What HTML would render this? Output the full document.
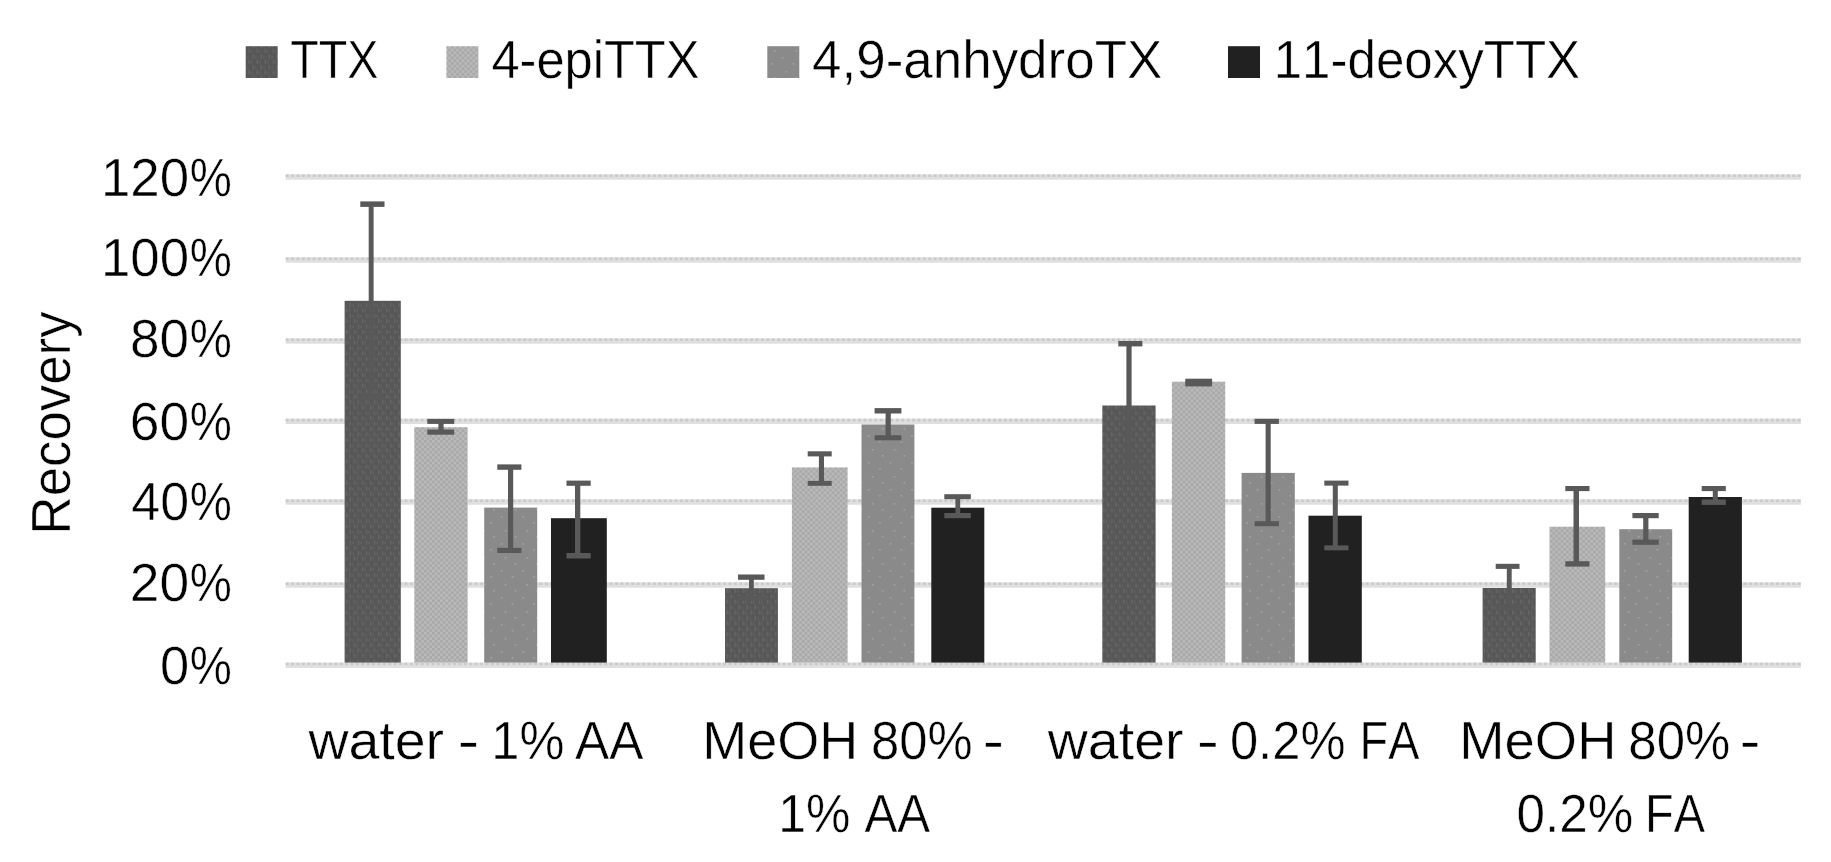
<!DOCTYPE html>
<html lang="en"><head><meta charset="utf-8"><title>Recovery chart</title>
<style>html,body{margin:0;padding:0;background:#fff}body{width:1831px;height:862px;overflow:hidden}svg{display:block;filter:blur(0.7px)}text{font-family:"Liberation Sans",sans-serif;fill:#000;font-kerning:none;stroke:#fff;stroke-width:0.5px}</style></head><body>
<svg width="1831" height="862" viewBox="0 0 1831 862">
<rect width="1831" height="862" fill="#fff"/>
<defs><pattern id="p0" width="8.1" height="10.8" patternUnits="userSpaceOnUse"><rect width="8.1" height="10.8" fill="#575757"/><rect x="1.3" y="0.5" width="1.4" height="4.2" fill="#676767"/><rect x="5.4" y="5.6" width="1.4" height="4.2" fill="#676767"/><rect x="4" y="1.6" width="1.4" height="2.7" fill="#626262"/><rect x="0" y="6.8" width="1.4" height="2.7" fill="#626262"/></pattern><pattern id="p1" width="5.4" height="5.4" patternUnits="userSpaceOnUse"><rect width="5.4" height="5.4" fill="#b9b9b9"/><rect width="2.7" height="2.7" fill="#a9a9a9"/><rect x="2.7" y="2.7" width="2.7" height="2.7" fill="#a9a9a9"/></pattern><pattern id="p2" width="21.6" height="27" patternUnits="userSpaceOnUse"><rect width="21.6" height="27" fill="#8a8a8a"/><rect x="4" y="3" width="1.6" height="1.6" fill="#a4a4a4"/><rect x="15" y="9" width="1.6" height="1.6" fill="#a4a4a4"/><rect x="8" y="17" width="1.6" height="1.6" fill="#a4a4a4"/><rect x="18" y="23" width="1.6" height="1.6" fill="#a4a4a4"/></pattern></defs>
<g id="grid">
<rect x="285.7" y="662.5" width="1515.2" height="5.4" fill="#dfdfdf"/>
<line x1="285.7" y1="664.0" x2="1800.9" y2="664.0" stroke="#cacaca" stroke-width="2.6" stroke-dasharray="2.9 2.5"/>
<rect x="285.7" y="582.3" width="1515.2" height="5.4" fill="#dfdfdf"/>
<line x1="285.7" y1="583.8" x2="1800.9" y2="583.8" stroke="#cacaca" stroke-width="2.6" stroke-dasharray="2.9 2.5"/>
<rect x="285.7" y="499.3" width="1515.2" height="5.4" fill="#dfdfdf"/>
<line x1="285.7" y1="500.8" x2="1800.9" y2="500.8" stroke="#cacaca" stroke-width="2.6" stroke-dasharray="2.9 2.5"/>
<rect x="285.7" y="418.6" width="1515.2" height="5.4" fill="#dfdfdf"/>
<line x1="285.7" y1="420.1" x2="1800.9" y2="420.1" stroke="#cacaca" stroke-width="2.6" stroke-dasharray="2.9 2.5"/>
<rect x="285.7" y="338.3" width="1515.2" height="5.4" fill="#dfdfdf"/>
<line x1="285.7" y1="339.8" x2="1800.9" y2="339.8" stroke="#cacaca" stroke-width="2.6" stroke-dasharray="2.9 2.5"/>
<rect x="285.7" y="257.3" width="1515.2" height="5.4" fill="#dfdfdf"/>
<line x1="285.7" y1="258.8" x2="1800.9" y2="258.8" stroke="#cacaca" stroke-width="2.6" stroke-dasharray="2.9 2.5"/>
<rect x="285.7" y="174.3" width="1515.2" height="5.4" fill="#dfdfdf"/>
<line x1="285.7" y1="175.8" x2="1800.9" y2="175.8" stroke="#cacaca" stroke-width="2.6" stroke-dasharray="2.9 2.5"/>
</g>
<g id="bars">
<rect x="344.6" y="300.8" width="56.2" height="361.8" fill="url(#p0)"/>
<rect x="414.3" y="427.2" width="53.3" height="235.4" fill="url(#p1)"/>
<rect x="484.2" y="507.6" width="53.0" height="155.0" fill="url(#p2)"/>
<rect x="551.0" y="518.2" width="55.8" height="144.4" fill="#212121"/>
<rect x="725.0" y="588.2" width="52.9" height="74.4" fill="url(#p0)"/>
<rect x="791.9" y="467.4" width="55.7" height="195.2" fill="url(#p1)"/>
<rect x="861.5" y="424.5" width="52.9" height="238.1" fill="url(#p2)"/>
<rect x="931.3" y="507.7" width="53.0" height="154.9" fill="#212121"/>
<rect x="1102.3" y="405.5" width="53.3" height="257.1" fill="url(#p0)"/>
<rect x="1171.9" y="381.7" width="53.3" height="280.9" fill="url(#p1)"/>
<rect x="1241.6" y="472.9" width="53.2" height="189.7" fill="url(#p2)"/>
<rect x="1308.5" y="515.7" width="53.3" height="146.9" fill="#212121"/>
<rect x="1482.6" y="588.0" width="53.1" height="74.6" fill="url(#p0)"/>
<rect x="1549.5" y="526.7" width="55.7" height="135.9" fill="url(#p1)"/>
<rect x="1619.3" y="529.2" width="52.9" height="133.4" fill="url(#p2)"/>
<rect x="1688.7" y="497.0" width="53.2" height="165.6" fill="#212121"/>
</g>
<g id="err" fill="#595959">
<rect x="368.7" y="202.4" width="4.9" height="196.6"/>
<rect x="360.3" y="201.4" width="24.2" height="5.5"/>
<rect x="360.3" y="395.0" width="24.2" height="5.0"/>
<rect x="438.4" y="419.9" width="5.2" height="13.8"/>
<rect x="427.3" y="418.9" width="26.9" height="5.0"/>
<rect x="427.3" y="429.5" width="26.9" height="5.2"/>
<rect x="508.0" y="465.4" width="5.2" height="86.6"/>
<rect x="497.3" y="464.4" width="24.1" height="5.4"/>
<rect x="497.3" y="547.8" width="24.1" height="5.2"/>
<rect x="575.0" y="481.6" width="5.3" height="75.9"/>
<rect x="566.5" y="480.6" width="24.2" height="5.2"/>
<rect x="566.5" y="553.0" width="24.2" height="5.5"/>
<rect x="749.0" y="575.5" width="4.8" height="24.5"/>
<rect x="738.0" y="574.5" width="26.5" height="5.3"/>
<rect x="738.0" y="596.0" width="26.5" height="5.0"/>
<rect x="818.9" y="452.3" width="5.1" height="32.5"/>
<rect x="807.7" y="451.3" width="24.0" height="5.1"/>
<rect x="807.7" y="480.9" width="24.0" height="4.9"/>
<rect x="885.6" y="409.1" width="5.2" height="30.2"/>
<rect x="874.6" y="408.1" width="26.8" height="5.4"/>
<rect x="874.6" y="435.2" width="26.8" height="5.1"/>
<rect x="955.4" y="495.2" width="4.8" height="22.0"/>
<rect x="944.3" y="494.2" width="26.5" height="5.0"/>
<rect x="944.3" y="513.0" width="26.5" height="5.2"/>
<rect x="1126.4" y="342.0" width="5.2" height="126.0"/>
<rect x="1118.3" y="341.0" width="24.1" height="5.4"/>
<rect x="1118.3" y="464.0" width="24.1" height="5.0"/>
<rect x="1196.0" y="379.7" width="5.0" height="5.7"/>
<rect x="1185.3" y="378.7" width="26.8" height="4.8"/>
<rect x="1185.3" y="381.5" width="26.8" height="4.9"/>
<rect x="1265.6" y="419.8" width="5.1" height="105.4"/>
<rect x="1254.6" y="418.8" width="24.3" height="5.1"/>
<rect x="1254.6" y="521.2" width="24.3" height="5.0"/>
<rect x="1332.8" y="481.6" width="5.0" height="67.7"/>
<rect x="1324.3" y="480.6" width="24.2" height="5.0"/>
<rect x="1324.3" y="545.4" width="24.2" height="4.9"/>
<rect x="1506.8" y="564.8" width="4.9" height="44.2"/>
<rect x="1495.7" y="563.8" width="23.8" height="5.1"/>
<rect x="1495.7" y="605.0" width="23.8" height="5.0"/>
<rect x="1573.5" y="487.0" width="5.5" height="78.6"/>
<rect x="1565.3" y="486.0" width="24.2" height="5.1"/>
<rect x="1565.3" y="561.2" width="24.2" height="5.4"/>
<rect x="1643.2" y="514.0" width="5.2" height="29.8"/>
<rect x="1632.4" y="513.0" width="26.3" height="5.2"/>
<rect x="1632.4" y="539.6" width="26.3" height="5.2"/>
<rect x="1712.8" y="487.0" width="5.0" height="16.9"/>
<rect x="1701.7" y="486.0" width="24.1" height="5.1"/>
<rect x="1701.7" y="499.5" width="24.1" height="5.4"/>
</g>
<g id="ylab" font-size="54">
<text><tspan x="159.9" y="684.0" textLength="29.2" lengthAdjust="spacingAndGlyphs">0</tspan><tspan x="189.8" y="684.0" textLength="42.1" lengthAdjust="spacingAndGlyphs">%</tspan></text>
<text><tspan x="129.8" y="601.0" textLength="59.4" lengthAdjust="spacingAndGlyphs">20</tspan><tspan x="189.8" y="601.0" textLength="42.1" lengthAdjust="spacingAndGlyphs">%</tspan></text>
<text><tspan x="131.3" y="520.0" textLength="57.8" lengthAdjust="spacingAndGlyphs">40</tspan><tspan x="189.8" y="520.0" textLength="42.1" lengthAdjust="spacingAndGlyphs">%</tspan></text>
<text><tspan x="129.7" y="439.6" textLength="59.4" lengthAdjust="spacingAndGlyphs">60</tspan><tspan x="189.8" y="439.6" textLength="42.1" lengthAdjust="spacingAndGlyphs">%</tspan></text>
<text><tspan x="130.1" y="356.8" textLength="59.0" lengthAdjust="spacingAndGlyphs">80</tspan><tspan x="189.8" y="356.8" textLength="42.1" lengthAdjust="spacingAndGlyphs">%</tspan></text>
<text><tspan x="100.9" y="275.9" textLength="88.2" lengthAdjust="spacingAndGlyphs">100</tspan><tspan x="189.8" y="275.9" textLength="42.1" lengthAdjust="spacingAndGlyphs">%</tspan></text>
<text><tspan x="100.9" y="195.9" textLength="88.2" lengthAdjust="spacingAndGlyphs">120</tspan><tspan x="189.8" y="195.9" textLength="42.1" lengthAdjust="spacingAndGlyphs">%</tspan></text>
</g>
<text font-size="55.5" transform="translate(70.1 529.8) rotate(-90)" x="-4.6" y="0" textLength="223.0" lengthAdjust="spacingAndGlyphs">Recovery</text>
<g id="legend" font-size="54">
<rect x="245.7" y="46.2" width="32.0" height="31.8" fill="url(#p0)"/>
<text><tspan x="290.2" y="78.2" textLength="88.3" lengthAdjust="spacingAndGlyphs">TTX</tspan></text>
<rect x="446.4" y="46.2" width="32.0" height="31.8" fill="url(#p1)"/>
<text><tspan x="491.4" y="78.2" textLength="208.1" lengthAdjust="spacingAndGlyphs">4-epiTTX</tspan></text>
<rect x="767.3" y="46.2" width="32.0" height="31.8" fill="url(#p2)"/>
<text><tspan x="812.1" y="78.2" textLength="350.2" lengthAdjust="spacingAndGlyphs">4,9-anhydroTX</tspan></text>
<rect x="1228.0" y="46.2" width="32.0" height="31.8" fill="#212121"/>
<text><tspan x="1273.7" y="78.2" textLength="306.5" lengthAdjust="spacingAndGlyphs">11-deoxyTTX</tspan></text>
</g>
<g id="xlab" font-size="54">
<text><tspan x="308.4" y="759.0" textLength="135.6" lengthAdjust="spacingAndGlyphs">water</tspan> <tspan x="457.5" y="759.0" textLength="21.8" lengthAdjust="spacingAndGlyphs">-</tspan> <tspan x="491.3" y="759.0" textLength="73.1" lengthAdjust="spacingAndGlyphs">1%</tspan> <tspan x="575.0" y="759.0" textLength="68.4" lengthAdjust="spacingAndGlyphs">AA</tspan></text>
<text><tspan x="702.2" y="759.0" textLength="156.2" lengthAdjust="spacingAndGlyphs">MeOH</tspan> <tspan x="871.0" y="759.0" textLength="101.7" lengthAdjust="spacingAndGlyphs">80%</tspan> <tspan x="982.4" y="759.0" textLength="21.6" lengthAdjust="spacingAndGlyphs">-</tspan></text>
<text><tspan x="778.2" y="831.9" textLength="72.2" lengthAdjust="spacingAndGlyphs">1%</tspan> <tspan x="864.5" y="831.9" textLength="65.7" lengthAdjust="spacingAndGlyphs">AA</tspan></text>
<text><tspan x="1047.8" y="759.0" textLength="135.7" lengthAdjust="spacingAndGlyphs">water</tspan> <tspan x="1196.7" y="759.0" textLength="22.2" lengthAdjust="spacingAndGlyphs">-</tspan> <tspan x="1229.9" y="759.0" textLength="115.7" lengthAdjust="spacingAndGlyphs">0.2%</tspan> <tspan x="1359.6" y="759.0" textLength="59.8" lengthAdjust="spacingAndGlyphs">FA</tspan></text>
<text><tspan x="1459.3" y="759.0" textLength="157.1" lengthAdjust="spacingAndGlyphs">MeOH</tspan> <tspan x="1628.3" y="759.0" textLength="102.0" lengthAdjust="spacingAndGlyphs">80%</tspan> <tspan x="1739.4" y="759.0" textLength="21.1" lengthAdjust="spacingAndGlyphs">-</tspan></text>
<text><tspan x="1516.6" y="831.9" textLength="116.8" lengthAdjust="spacingAndGlyphs">0.2%</tspan> <tspan x="1645.0" y="831.9" textLength="59.9" lengthAdjust="spacingAndGlyphs">FA</tspan></text>
</g>
</svg></body></html>
